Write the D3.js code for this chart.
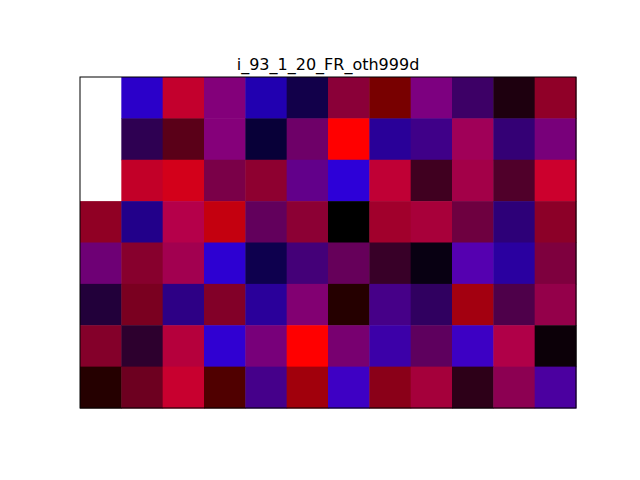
<!DOCTYPE html>
<html>
<head>
<meta charset="utf-8">
<script src="https://cdn.jsdelivr.net/npm/d3@7"></script>
<style>
  body { margin: 0; background: #fff; }
  svg { display: block; }
</style>
</head>
<body>
<div id="chart"></div>
<script>
const title = 'i_93_1_20_FR_oth999d'

// one array per image row, top to bottom; null = missing (drawn blank)
const row0 = [null, '#2b00c9', '#c3002d', '#83007a', '#2100b0', '#12004a', '#8a0038', '#780000', '#7d0080', '#3d0066', '#1e000f', '#900028']
const row1 = [null, '#2e0052', '#5a0018', '#85007a', '#080038', '#6e0068', '#ff0000', '#290098', '#3f0088', '#a00058', '#340075', '#78007a']
const row2 = [null, '#c20028', '#d3001a', '#7a0048', '#8e0030', '#62008a', '#2d00d8', '#c00035', '#400020', '#a30048', '#50002a', '#cc002d']
const row3 = ['#900024', '#22008a', '#b5004a', '#c4000f', '#62005c', '#8c0034', '#000000', '#a1002c', '#a8003a', '#6e0040', '#2d0078', '#8c0028']
const row4 = ['#6e0075', '#87002d', '#a20050', '#2d00d2', '#0e004e', '#440078', '#66005a', '#380028', '#080012', '#5500b0', '#2a00a0', '#7e003e']
const row5 = ['#22003a', '#7a0020', '#2d0085', '#820028', '#2a009a', '#820072', '#250000', '#460088', '#300060', '#a30010', '#4e004a', '#94004a']
const row6 = ['#84002a', '#2d002e', '#b5003c', '#3000d2', '#78007a', '#ff0000', '#780070', '#3c00a8', '#5e005e', '#3d00c4', '#b00048', '#0c0008']
const row7 = ['#250000', '#6d0020', '#c8002f', '#500000', '#45008a', '#a1000c', '#3e00c4', '#8a0018', '#a5003b', '#2d0018', '#8c0052', '#4b00a0']

const rows = [row0, row1, row2, row3, row4, row5, row6, row7]

const width = 640
const height = 480
const margin = { top: 77, right: 64, bottom: 72, left: 80 }
const innerWidth = width - margin.left - margin.right
const innerHeight = height - margin.top - margin.bottom

const svg = d3.select('#chart')
  .append('svg')
  .attr('width', width)
  .attr('height', height)

const g = svg.append('g')
  .attr('transform', `translate(${margin.left}, ${margin.top})`)

const x = d3.scaleBand()
  .domain(d3.range(row0.length))
  .range([0, innerWidth])

const y = d3.scaleBand()
  .domain(d3.range(rows.length))
  .range([0, innerHeight])

const cells = rows.flatMap((r, i) => r.map((c, j) => ({ row: i, col: j, color: c })))

// cells
g.selectAll('rect.cell')
  .data(cells.filter(d => d.color !== null))
  .join('rect')
  .attr('class', 'cell')
  .attr('x', d => x(d.col))
  .attr('y', d => y(d.row))
  .attr('width', x.bandwidth() + 0.5)
  .attr('height', y.bandwidth() + 0.5)
  .attr('fill', d => d.color)

// frame
g.append('rect')
  .attr('x', 0)
  .attr('y', 0)
  .attr('width', innerWidth)
  .attr('height', innerHeight)
  .attr('fill', 'none')
  .attr('stroke', '#000')
  .attr('stroke-width', 1)

svg.append('text')
  .attr('x', margin.left + innerWidth / 2)
  .attr('y', margin.top - 7)
  .attr('text-anchor', 'middle')
  .style('font-family', 'DejaVu Sans')
  .style('font-size', '16px')
  .text(title)
</script>
</body>
</html>
